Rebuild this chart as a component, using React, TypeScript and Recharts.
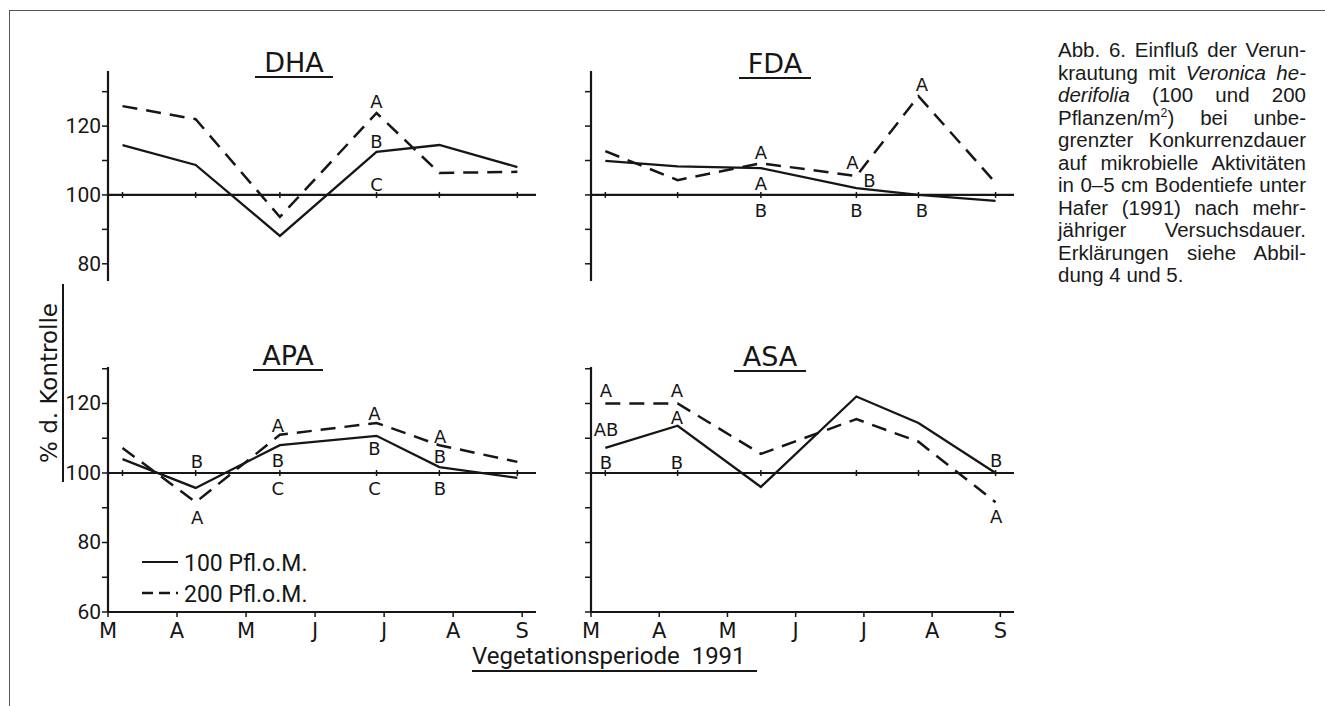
import React from 'react';
import { ComposedChart, Line, Scatter, XAxis, YAxis, ReferenceLine } from 'recharts';

// months on the x axis (March .. September) and sampling dates in month units
const months = ['M', 'A', 'M', 'J', 'J', 'A', 'S'];
const sampleMonths = [0.21, 1.27, 2.49, 3.89, 4.8, 5.93];

const dhaSolid = [114.5, 108.7, 88.1, 112.5, 114.5, 108.1];
const dhaDashed = [125.8, 122, 93.6, 123.8, 106.4, 106.7];
const fdaSolid = [109.9, 108.3, 107.8, 102, 100, 98.3];
const fdaDashed = [112.7, 104.3, 109.2, 105.5, 128.7, 103.5];
const apaSolid = [104, 95.7, 108, 110.7, 101.7, 98.6];
const apaDashed = [107.2, 91.6, 111, 114.4, 108, 103.2];
const asaSolid = [107.2, 113.6, 96, 122, 114.4, 100];
const asaDashed = [120, 120, 105.5, 115.5, 109, 91.6];

// significance letters: month position, value where the letter sits, letter
const dhaLetters = [
  { m: 3.89, v: 127, t: 'A' },
  { m: 3.89, v: 115.5, t: 'B' },
  { m: 3.89, v: 102.9, t: 'C' },
];
const fdaLetters = [
  { m: 2.49, v: 112.2, t: 'A' },
  { m: 2.49, v: 103.4, t: 'A' },
  { m: 2.49, v: 95.6, t: 'B' },
  { m: 3.83, v: 109.4, t: 'A' },
  { m: 4.08, v: 104.1, t: 'B' },
  { m: 3.89, v: 95.6, t: 'B' },
  { m: 4.85, v: 132, t: 'A' },
  { m: 4.85, v: 95.6, t: 'B' },
];
const apaLetters = [
  { m: 1.29, v: 103.2, t: 'B' },
  { m: 1.29, v: 87.3, t: 'A' },
  { m: 2.46, v: 113.8, t: 'A' },
  { m: 2.46, v: 103.7, t: 'B' },
  { m: 2.46, v: 95.4, t: 'C' },
  { m: 3.86, v: 117, t: 'A' },
  { m: 3.86, v: 106.9, t: 'B' },
  { m: 3.86, v: 95.4, t: 'C' },
  { m: 4.81, v: 110.6, t: 'A' },
  { m: 4.81, v: 104.6, t: 'B' },
  { m: 4.81, v: 95.4, t: 'B' },
];
const asaLetters = [
  { m: 0.22, v: 123.6, t: 'A' },
  { m: 0.22, v: 112.4, t: 'AB' },
  { m: 0.22, v: 102.9, t: 'B' },
  { m: 1.26, v: 123.6, t: 'A' },
  { m: 1.26, v: 116.1, t: 'A' },
  { m: 1.26, v: 102.9, t: 'B' },
  { m: 5.94, v: 103.7, t: 'B' },
  { m: 5.94, v: 87.6, t: 'A' },
];

const topTicks = [80, 90, 100, 110, 120, 130];
const bottomTicks = [60, 70, 80, 90, 100, 110, 120, 130];

const captionLines = [
  <>Abb. 6. Einfluß der Verun-</>,
  <>krautung mit <i>Veronica he-</i></>,
  <><i>derifolia</i> (100 und 200</>,
  <>Pflanzen/m<sup style={{ fontSize: '0.6em', lineHeight: 0 }}>2</sup>) bei unbe-</>,
  <>grenzter Konkurrenzdauer</>,
  <>auf mikrobielle Aktivitäten</>,
  <>in 0–5 cm Bodentiefe unter</>,
  <>Hafer (1991) nach mehr-</>,
  <>jähriger Versuchsdauer.</>,
  <>Erklärungen siehe Abbil-</>,
  <>dung 4 und 5.</>,
];

const INK = '#161616';
const LETTER_FONT = '"DejaVu Sans", sans-serif';

type Letter = { m: number; v: number; t: string };

interface PanelProps {
  title: string;
  solid: number[];
  dashed: number[];
  letters: Letter[];
  left: number;
  top: number;
  plotW: number;
  plotH: number;
  xMax: number;
  yDomain: [number, number];
  yTicks: number[];
  yLabels: number[];
  showMonths: boolean;
  titleX: number;
  titleY: number;
}

const Panel: React.FC<PanelProps> = (p) => {
  const rows = sampleMonths.map((m, i) => ({ m, s: p.solid[i], d: p.dashed[i] }));
  // little marks on the 100 % line at each sampling date
  const baseMarks = sampleMonths.map((m) => ({ m, v: 100 }));
  const height = p.showMonths ? 30 + p.plotH + 45 : 30 + p.plotH + 10;

  return (
    <>
      <div
        style={{
          position: 'absolute',
          left: p.titleX - 60,
          top: p.titleY - 14,
          width: 120,
          textAlign: 'center',
          fontFamily: LETTER_FONT,
          fontSize: 27,
          lineHeight: '27px',
          color: INK,
        }}
      >
        <span style={{ display: 'inline-block', padding: '0 9px', borderBottom: `2px solid ${INK}` }}>{p.title}</span>
      </div>
      <div style={{ position: 'absolute', left: p.left - 60, top: p.top - 30 }}>
        <ComposedChart
          width={60 + p.plotW + 10}
          height={height}
          data={rows}
          margin={{ top: 30, right: 10, left: 0, bottom: p.showMonths ? 5 : 10 }}
        >
          <XAxis
            type="number"
            dataKey="m"
            domain={[0, p.xMax]}
            ticks={[0, 1, 2, 3, 4, 5, 6]}
            interval={0}
            hide={!p.showMonths}
            height={40}
            tickSize={5}
            tickMargin={3}
            axisLine={{ stroke: INK, strokeWidth: 2.2 }}
            tickLine={{ stroke: INK, strokeWidth: 1.5 }}
            tick={({ x, y, payload }: any) => (
              <text x={x} y={y} dy={17.5} textAnchor="middle" fontFamily={LETTER_FONT} fontSize={21} fill={INK}>
                {months[payload.value]}
              </text>
            )}
          />
          <YAxis
            type="number"
            domain={p.yDomain}
            ticks={p.yTicks}
            interval={0}
            width={60}
            tickSize={6}
            tickMargin={1}
            axisLine={{ stroke: INK, strokeWidth: 2.2 }}
            tickLine={{ stroke: INK, strokeWidth: 1.5 }}
            tick={({ x, y, payload }: any) =>
              p.yLabels.includes(payload.value) ? (
                <text x={x} y={y} dy={7} textAnchor="end" fontFamily="Roboto, sans-serif" fontSize={21} fill={INK}>
                  {payload.value}
                </text>
              ) : (
                <g />
              )
            }
          />
          <ReferenceLine y={100} stroke={INK} strokeWidth={2.2} />
          <Scatter
            data={baseMarks}
            dataKey="v"
            isAnimationActive={false}
            shape={(s: any) => (
              <line x1={s.cx} y1={s.cy - 3} x2={s.cx} y2={s.cy + 3} stroke={INK} strokeWidth={1.5} />
            )}
          />
          <Line
            type="linear"
            dataKey="s"
            stroke={INK}
            strokeWidth={2.3}
            dot={false}
            isAnimationActive={false}
          />
          <Line
            type="linear"
            dataKey="d"
            stroke={INK}
            strokeWidth={2.5}
            strokeDasharray="15 9"
            dot={false}
            isAnimationActive={false}
          />
          <Scatter
            data={p.letters}
            dataKey="v"
            isAnimationActive={false}
            shape={(s: any) => (
              <text
                x={s.cx}
                y={s.cy}
                dy="0.36em"
                textAnchor="middle"
                fontFamily={LETTER_FONT}
                fontSize={18}
                fill={INK}
              >
                {s.payload.t}
              </text>
            )}
          />
        </ComposedChart>
      </div>
    </>
  );
};

export default function App() {
  return (
    <div
      style={{
        position: 'absolute',
        left: 0,
        top: 0,
        width: 1325,
        height: 706,
        background: '#fff',
        overflow: 'hidden',
      }}
    >
      {/* page frame */}
      <div
        style={{
          position: 'absolute',
          left: 9,
          top: 10,
          width: 1330,
          height: 720,
          borderLeft: '1.5px solid #555',
          borderTop: '1.5px solid #555',
        }}
      />

      <Panel
        title="DHA"
        solid={dhaSolid}
        dashed={dhaDashed}
        letters={dhaLetters}
        left={108}
        top={71}
        plotW={428}
        plotH={210}
        xMax={6.2}
        yDomain={[75, 136]}
        yTicks={topTicks}
        yLabels={[80, 100, 120]}
        showMonths={false}
        titleX={294}
        titleY={63}
      />
      <Panel
        title="FDA"
        solid={fdaSolid}
        dashed={fdaDashed}
        letters={fdaLetters}
        left={591}
        top={71}
        plotW={423}
        plotH={210}
        xMax={6.2}
        yDomain={[75, 136]}
        yTicks={topTicks}
        yLabels={[]}
        showMonths={false}
        titleX={775}
        titleY={64}
      />
      <Panel
        title="APA"
        solid={apaSolid}
        dashed={apaDashed}
        letters={apaLetters}
        left={108}
        top={367}
        plotW={428}
        plotH={245}
        xMax={6.2}
        yDomain={[60, 130.5]}
        yTicks={bottomTicks}
        yLabels={[60, 80, 100, 120]}
        showMonths={true}
        titleX={288}
        titleY={356}
      />
      <Panel
        title="ASA"
        solid={asaSolid}
        dashed={asaDashed}
        letters={asaLetters}
        left={591}
        top={367}
        plotW={423}
        plotH={245}
        xMax={6.2}
        yDomain={[60, 130.5]}
        yTicks={bottomTicks}
        yLabels={[]}
        showMonths={true}
        titleX={770}
        titleY={357}
      />

      {/* legend */}
      <svg style={{ position: 'absolute', left: 138, top: 550 }} width={46} height={56}>
        <line x1={4} y1={12} x2={40} y2={12} stroke={INK} strokeWidth={2.2} />
        <line x1={4} y1={43} x2={40} y2={43} stroke={INK} strokeWidth={2.4} strokeDasharray="11 6" />
      </svg>
      <div
        style={{
          position: 'absolute',
          left: 184,
          top: 548,
          fontFamily: 'Roboto, sans-serif',
          fontSize: 23,
          lineHeight: '31px',
          color: INK,
        }}
      >
        <div>100 Pfl.o.M.</div>
        <div>200 Pfl.o.M.</div>
      </div>

      {/* y axis title */}
      <div
        style={{
          position: 'absolute',
          left: 50 - 99,
          top: 383 - 14,
          width: 198,
          height: 26,
          transform: 'rotate(-90deg)',
          textAlign: 'center',
          fontFamily: LETTER_FONT,
          fontSize: 23,
          lineHeight: '26px',
          color: INK,
          borderBottom: `2px solid ${INK}`,
        }}
      >
        % d. Kontrolle
      </div>

      {/* x axis title */}
      <div
        style={{
          position: 'absolute',
          left: 472,
          top: 643,
          width: 285,
          fontFamily: 'Roboto, sans-serif',
          fontSize: 24,
          lineHeight: '27px',
          color: INK,
          borderBottom: `2px solid ${INK}`,
          whiteSpace: 'pre',
        }}
      >
        Vegetationsperiode  1991
      </div>

      {/* caption */}
      <div
        style={{
          position: 'absolute',
          left: 1058,
          top: 39,
          width: 248,
          fontFamily: '"Liberation Sans", Arial, sans-serif',
          fontSize: 20.5,
          lineHeight: '22.5px',
          color: '#1a1a1a',
        }}
      >
        {captionLines.map((line, i) => (
          <div
            key={i}
            style={{
              whiteSpace: 'nowrap',
              textAlign: i === captionLines.length - 1 ? 'left' : 'justify',
              textAlignLast: i === captionLines.length - 1 ? 'left' : 'justify',
              height: 22.5,
            }}
          >
            {line}
          </div>
        ))}
      </div>
    </div>
  );
}
